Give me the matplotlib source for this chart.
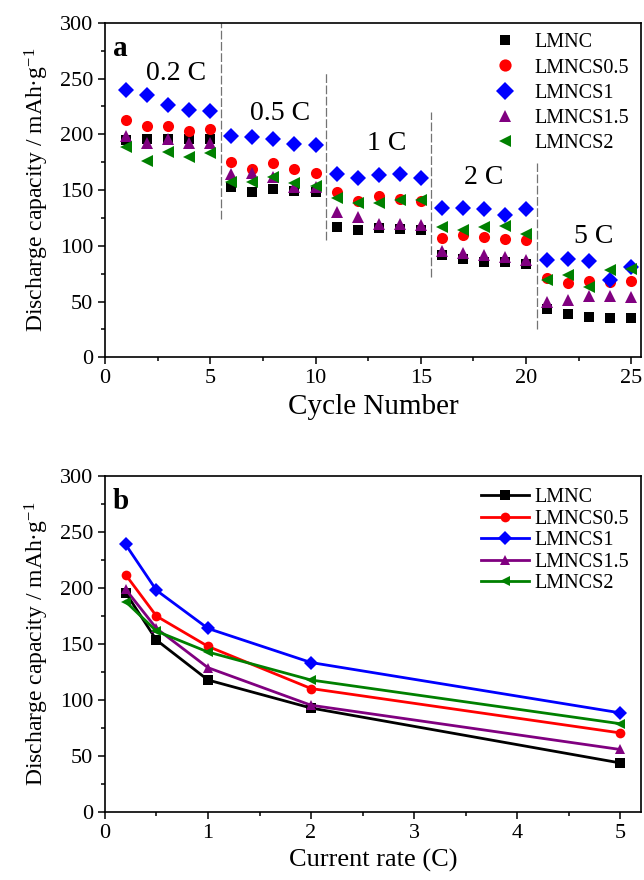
import numpy as np
import matplotlib
matplotlib.use('Agg')
import matplotlib.pyplot as plt
from matplotlib.ticker import MultipleLocator

plt.rcParams['font.family'] = ['Liberation Serif', 'DejaVu Serif']
plt.rcParams['mathtext.fontset'] = 'custom'
plt.rcParams['mathtext.rm'] = 'Liberation Serif'
plt.rcParams['mathtext.default'] = 'regular'

# panel a: discharge capacity per cycle
cycles = np.arange(1, 26)
lmnc = [195, 196, 196, 196, 196, 153, 148, 150.6, 149.6, 148,
        117, 114, 115.6, 115, 114, 91.6, 88, 85.6, 85.6, 83.5,
        43, 38.6, 36, 35.5, 35.5]
lmncs05 = [213, 207.5, 207.5, 203, 205, 175.5, 168.6, 174, 169, 165.6,
           148, 140, 144.6, 141.6, 140, 107, 109.6, 108, 106.5, 105,
           70.7, 66.8, 68.3, 67.6, 68]
lmncs1 = [240, 235, 226, 222, 221, 198.6, 198, 195.6, 191, 190,
          164.4, 161, 163.5, 164.4, 160.5, 134, 133.6, 133, 128, 133,
          87, 88.6, 86, 69, 81]
lmncs15 = [198.5, 192.6, 195.6, 192, 192, 164.4, 165, 162, 153, 153,
           130, 125.5, 119.5, 119.5, 118.6, 95, 93.7, 92, 90, 87.7,
           50, 51, 55, 55, 54]
lmncs2 = [188.4, 176.4, 184, 180, 183, 157.5, 157.5, 162, 156, 154,
          143, 138.6, 138, 141, 141, 117, 114, 117, 117.7, 111,
          69, 74, 63, 78, 79.6]

# panel b: capacity vs current rate
rates = [0.2, 0.5, 1, 2, 5]
b_lmnc = [196, 153.6, 118, 93, 44]
b_lmncs05 = [212, 175, 148, 110.4, 70.8]
b_lmncs1 = [239, 198, 164, 133.6, 88.7]
b_lmncs15 = [199, 164, 129, 95.5, 56]
b_lmncs2 = [188, 161.6, 143, 118, 79]

names = ['LMNC', 'LMNCS0.5', 'LMNCS1', 'LMNCS1.5', 'LMNCS2']
colors = ['black', '#ff0000', '#0000ff', '#800080', '#008000']
markers = ['s', 'o', 'D', '^', '<']

# rate step labels and separators
rate_labels = ['0.2 C', '0.5 C', '1 C', '2 C', '5 C']
label_x = [3.4, 8.3, 13.4, 18.0, 23.2]
label_y = [255, 219, 192, 161, 108]
sep_x = [5.5, 10.5, 15.5, 20.5]
sep_lo = [124, 105, 72, 25]
sep_hi = [300, 255, 220, 174]

fig = plt.figure(figsize=(6.44, 8.80), dpi=100)
ax1 = fig.add_axes([0.163, 0.594, 0.832, 0.380])
ax2 = fig.add_axes([0.163, 0.077, 0.832, 0.382])

series_a = [lmnc, lmncs05, lmncs1, lmncs15, lmncs2]
sizes_a = [7, 8, 8, 8.5, 8.5]
for vals, name, c, m, s in zip(series_a, names, colors, markers, sizes_a):
    ax1.plot(cycles, vals, linestyle='none', marker=m, color=c,
             markersize=s, markeredgewidth=0, label=name)

for x, lo, hi in zip(sep_x, sep_lo, sep_hi):
    ax1.plot([x, x], [lo, hi], color='0.45', linewidth=0.9,
             linestyle=(0, (7, 2)))

for t, x, y in zip(rate_labels, label_x, label_y):
    ax1.text(x, y, t, fontsize=20, ha='center', va='center')

ax1.text(0.015, 0.965, 'a', transform=ax1.transAxes, fontsize=21,
         fontweight='bold', ha='left', va='top')

ax1.set_xlim(0, 25.45)
ax1.set_ylim(0, 300)
ax1.xaxis.set_major_locator(MultipleLocator(5))
ax1.xaxis.set_minor_locator(MultipleLocator(2.5))
ax1.set_xlabel('Cycle Number', fontsize=21, labelpad=4)

leg1 = ax1.legend(loc='upper right', frameon=False, fontsize=14.5,
                  handlelength=1.4, handletextpad=0.75, labelspacing=0.3,
                  borderaxespad=0.2, markerscale=1.1,
                  bbox_to_anchor=(1.0, 1.005))

series_b = [b_lmnc, b_lmncs05, b_lmncs1, b_lmncs15, b_lmncs2]
for vals, name, c, m in zip(series_b, names, colors, markers):
    ax2.plot(rates, vals, marker=m, color=c, markersize=7,
             linewidth=2, markeredgewidth=0, label=name)

ax2.text(0.015, 0.965, 'b', transform=ax2.transAxes, fontsize=21,
         fontweight='bold', ha='left', va='top')

ax2.set_xlim(0, 5.2)
ax2.set_ylim(0, 300)
ax2.xaxis.set_major_locator(MultipleLocator(1))
ax2.xaxis.set_minor_locator(MultipleLocator(0.5))
ax2.set_xlabel('Current rate (C)', fontsize=19, labelpad=4)

leg2 = ax2.legend(loc='upper right', frameon=False, fontsize=14.5,
                  handlelength=2.4, handletextpad=0.25, labelspacing=0.12,
                  borderaxespad=0.2, bbox_to_anchor=(1.0, 1.0))

for ax in (ax1, ax2):
    ax.yaxis.set_major_locator(MultipleLocator(50))
    ax.yaxis.set_minor_locator(MultipleLocator(25))
    ax.set_ylabel('Discharge capacity / mAh·g$^{-1}$', fontsize=17,
                  labelpad=6)
    ax.tick_params(which='both', direction='out', top=False, right=False,
                   labelsize=16, width=1.1)
    ax.tick_params(which='major', length=5)
    ax.tick_params(which='minor', length=3)
    for sp in ax.spines.values():
        sp.set_linewidth(1.2)

fig.savefig('out.png', dpi=100)
